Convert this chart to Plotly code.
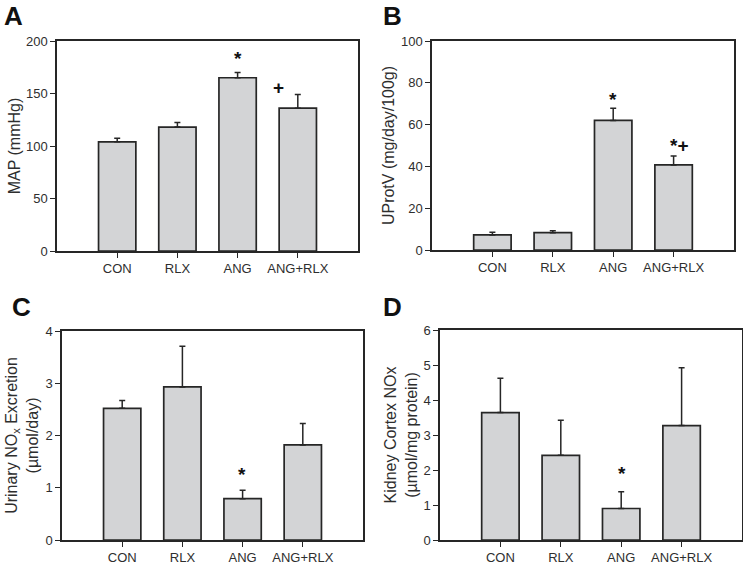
import plotly.graph_objects as go

groups = ["CON", "RLX", "ANG", "ANG+RLX"]

map_mean = [104, 118, 165, 136]
map_se = [3.5, 4.5, 5, 13]

uprot_mean = [7.2, 8.3, 62, 40.7]
uprot_se = [1.3, 0.9, 5.8, 4.3]

unox_mean = [2.52, 2.93, 0.79, 1.82]
unox_se = [0.15, 0.78, 0.16, 0.41]

knox_mean = [3.64, 2.42, 0.90, 3.27]
knox_se = [0.98, 1.0, 0.48, 1.65]

W, H = 743, 567
FONT = "Arial, Liberation Sans, sans-serif"
BAR = "#d3d4d6"
LINE = "#262626"
TXT = "#2e2e2e"

panels = [
    (map_mean, map_se, [0, 200], 50, "MAP (mmHg)", (57, 358, 41, 251), "A", (2, -1), 1),
    (uprot_mean, uprot_se, [0, 100], 20, "UProtV (mg/day/100g)", (432, 734, 41, 250), "B", (381, -1), 2),
    (unox_mean, unox_se, [0, 4], 1, "Urinary NO<sub>x</sub> Excretion<br>(µmol/day)", (62, 363, 331, 540), "C", (10, 290), 3),
    (knox_mean, knox_se, [0, 6], 1, "Kidney Cortex NOx<br>(µmol/mg protein)", (440, 742, 330, 540), "D", (381, 290), 2),
]

fig = go.Figure()
annotations = []
xs = list(range(len(groups)))

for i, (mean, se, yr, dt, title, box, letter, lpos, so) in enumerate(panels):
    k = "" if i == 0 else str(i + 1)
    fig.add_trace(go.Bar(
        x=xs, y=mean, width=0.62,
        marker=dict(color=BAR, line=dict(color=LINE, width=1.7)),
        error_y=dict(type="data", array=se, arrayminus=[0] * len(se), symmetric=False,
                     color=LINE, thickness=1.5, width=3),
        xaxis="x" + k, yaxis="y" + k, showlegend=False, hoverinfo="skip",
    ))
    x0, x1, y0, y1 = box
    axis_common = dict(showline=True, mirror=True, linecolor=LINE, linewidth=1.5,
                       ticks="outside", ticklen=5, tickwidth=1.2, tickcolor=LINE,
                       showgrid=False, zeroline=False, automargin=False,
                       tickfont=dict(family=FONT, size=13, color=TXT))
    fig.layout["xaxis" + k] = dict(
        domain=[x0 / W, x1 / W], range=[-1, 4], anchor="y" + k,
        tickmode="array", tickvals=xs, ticktext=groups, **axis_common)
    fig.layout["yaxis" + k] = dict(
        domain=[1 - y1 / H, 1 - y0 / H], range=yr, dtick=dt, anchor="x" + k,
        title=dict(text=title, font=dict(family=FONT, size=16, color=TXT), standoff=so),
        **axis_common)
    annotations.append(dict(
        text="<b>%s</b>" % letter, xref="paper", yref="paper",
        x=lpos[0] / W, y=1 - lpos[1] / H, xanchor="left", yanchor="top",
        showarrow=False, font=dict(family=FONT, size=26, color="#111111")))

marks = [
    ("", 2, map_mean[2] + map_se[2], "*", 0, 14),
    ("", 3, map_mean[3] + map_se[3], "+", -0.32, 7),
    ("2", 2, uprot_mean[2] + uprot_se[2], "*", 0, 9),
    ("2", 3, uprot_mean[3] + uprot_se[3], "*+", 0.09, 10),
    ("3", 2, unox_mean[2] + unox_se[2], "*", -0.01, 16),
    ("4", 2, knox_mean[2] + knox_se[2], "*", 0.01, 18),
]
for k, xi, yv, txt, dx, ysh in marks:
    annotations.append(dict(
        text="<b>%s</b>" % txt, xref="x" + k, yref="y" + k, x=xi + dx, y=yv,
        xanchor="center", yanchor="middle", yshift=ysh, showarrow=False,
        font=dict(family=FONT, size=19, color="#111111")))

fig.update_layout(
    width=W, height=H, margin=dict(l=0, r=0, t=0, b=0, autoexpand=False),
    plot_bgcolor="white", paper_bgcolor="white",
    annotations=annotations, bargap=0.38, hovermode=False,
)

fig.write_html("out.html", config={"displayModeBar": False},
               post_script="document.body.style.margin='0';document.body.style.overflow='hidden';")
